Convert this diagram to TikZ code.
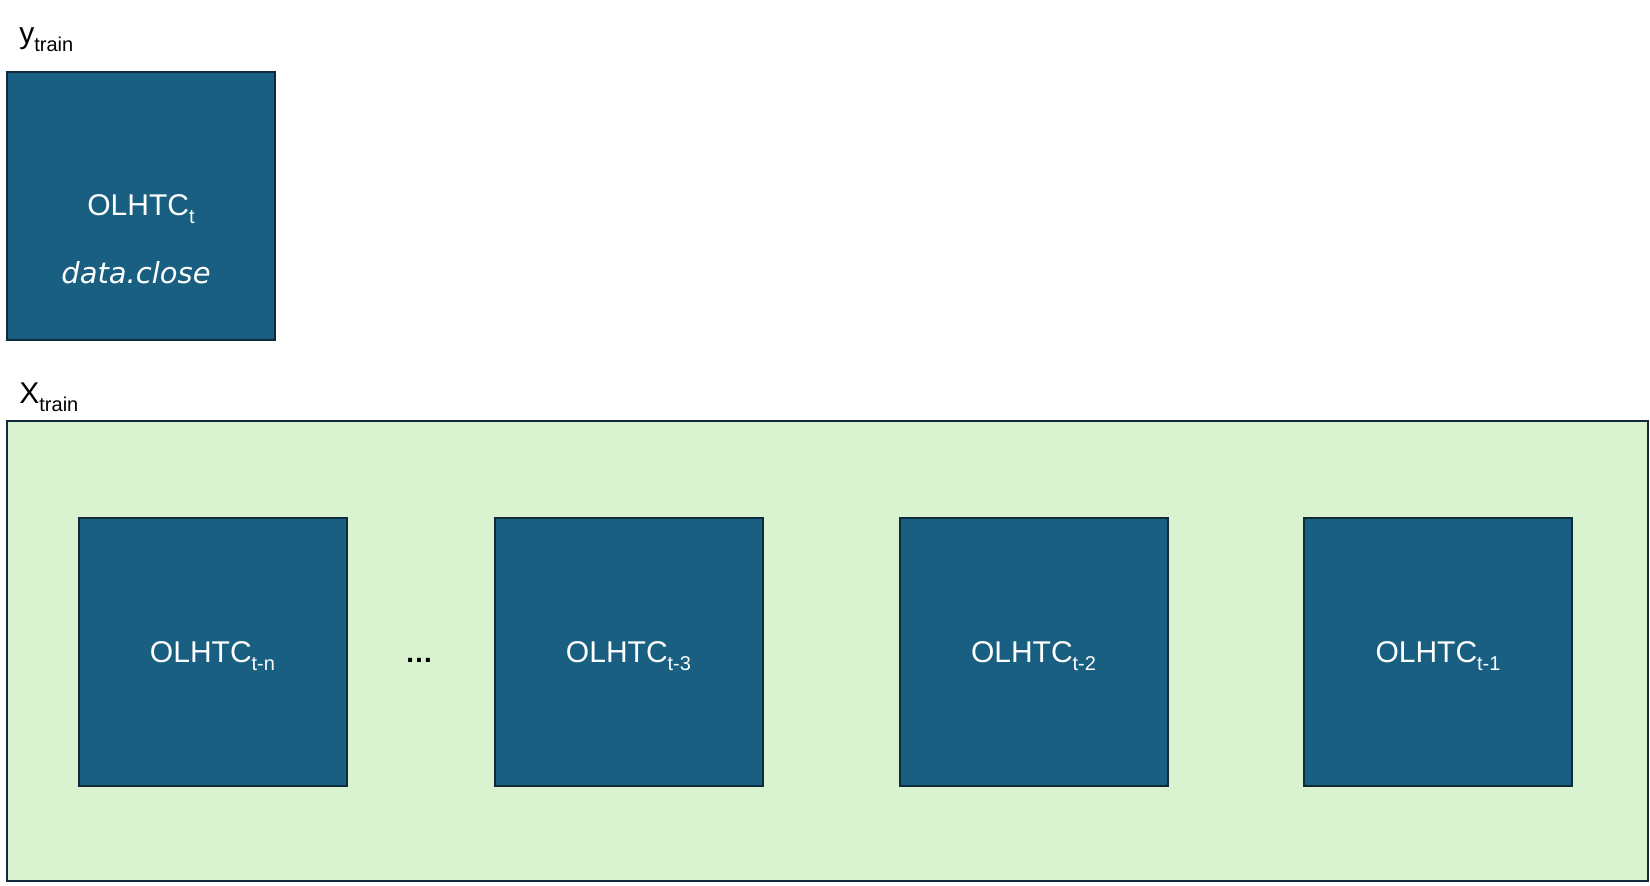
\documentclass[tikz,border=0pt]{standalone}
\usepackage{fontspec}
\setmainfont{Liberation Sans}
\newfontfamily\closefont{DejaVu Sans}
\usetikzlibrary{positioning}
\definecolor{cellblue}{HTML}{185F82}
\definecolor{panelgreen}{HTML}{D9F2D0}
\definecolor{edgedark}{HTML}{0F2A3A}
\newcommand{\lagsub}[1]{\raisebox{-4.3pt}{\fontsize{10}{12}\selectfont #1}}

\begin{document}
\begin{tikzpicture}[x=0.5pt,y=-0.5pt,
    cell/.style={draw=edgedark,line width=1pt,fill=cellblue,inner sep=0pt,
        minimum width=134pt,minimum height=134pt},
    celltext/.style={text=white,inner sep=0pt,font=\fontsize{15}{18}\selectfont},
    settag/.style={anchor=base west,inner sep=0pt,font=\fontsize{15}{18}\selectfont}]
    \useasboundingbox[fill=white] (0,0) rectangle (1650,885);
    % target
    \node[settag] (ytag) at (19,43) {y\lagsub{train}};
    \node[cell] (ybox) at (141,205.5) {};
    \node[celltext,anchor=base] (yname) at (141,215) {OLHTC\lagsub{t}};
    \node[celltext,anchor=base,font=\fontsize{14.5}{17}\closefont\itshape] (yclose) at (136,283) {data.close};
    % inputs
    \node[settag] (xtag) at (19,403) {X\lagsub{train}};
    \node[draw=edgedark,line width=1pt,fill=panelgreen,inner sep=0pt,
        minimum width=820.5pt,minimum height=230pt] (xpanel) at (827.5,651) {};
    \foreach \x/\lab/\nm in {212.5/t-n/lagn,628.5/t-3/lag3,1033.5/t-2/lag2,1438/t-1/lag1}{
        \node[cell] (\nm) at (\x,651.5) {};
        \node[celltext,anchor=base] (\nm-txt) at (\x,662) {OLHTC\lagsub{\lab}};
    }
    \node[inner sep=0pt,anchor=base,font=\fontsize{14}{17}\selectfont\bfseries] (dots) at (419,662) {\dots};
\end{tikzpicture}
\end{document}
